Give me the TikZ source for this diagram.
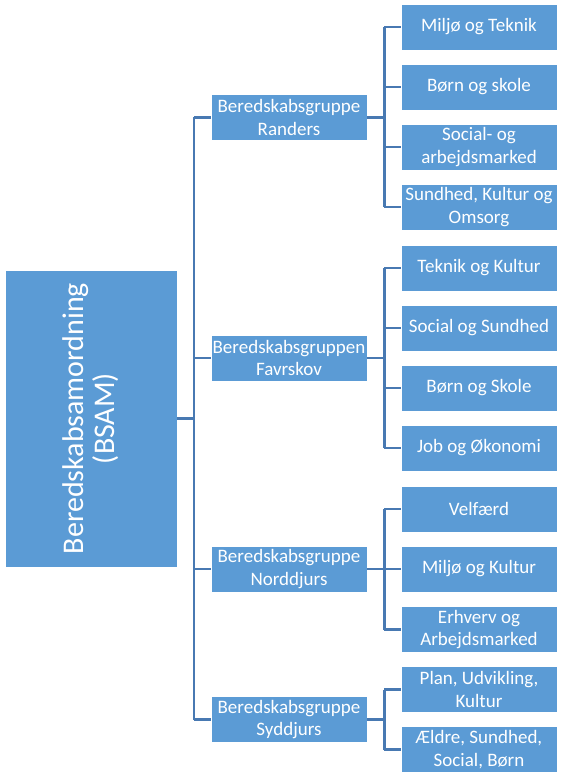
\documentclass[tikz,border=0pt]{standalone}
\usepackage{fontspec}
\setmainfont{Carlito}
\usetikzlibrary{calc}
\definecolor{boxblue}{HTML}{5B9BD5}
\definecolor{linkblue}{RGB}{72,121,178}
\begin{document}
\begin{tikzpicture}[x=1pt,y=-1pt,
  box/.style={draw=white,line width=0.6pt,fill=boxblue,text=white,inner sep=0pt,
    minimum width=156pt,minimum height=46pt,align=center,
    font=\fontsize{19}{22.5}\selectfont},
  link/.style={draw=linkblue,line width=2.4pt}]
\useasboundingbox[fill=white] (0,0) rectangle (562,778);
% root
\node[box,minimum width=172pt,minimum height=297pt] (root) at (91,418.5) {};
\node[rotate=90,text=white,align=center,inner sep=0pt,font=\fontsize{30}{31}\selectfont] (roottext) at (root.center) {Beredskabsamordning\\(BSAM)};
% level 2
\node[box] (g1) at (289,117.5) {Beredskabsgruppe\\Randers};
\node[box] (g2) at (289,358) {Beredskabsgruppen\\Favrskov};
\node[box] (g3) at (289,569) {Beredskabsgruppe\\Norddjurs};
\node[box] (g4) at (289,719.5) {Beredskabsgruppe\\Syddjurs};
% level 3
\node[box] (c11) at (479,27) {Miljø og Teknik};
\node[box] (c12) at (479,87) {Børn og skole};
\node[box] (c13) at (479,147) {Social- og\\arbejdsmarked};
\node[box] (c14) at (479,207) {Sundhed, Kultur og\\Omsorg};
\node[box] (c21) at (479,268) {Teknik og Kultur};
\node[box] (c22) at (479,328) {Social og Sundhed};
\node[box] (c23) at (479,388) {Børn og Skole};
\node[box] (c24) at (479,448) {Job og Økonomi};
\node[box] (c31) at (479,509) {Velfærd};
\node[box] (c32) at (479,569) {Miljø og Kultur};
\node[box] (c33) at (479,629.5) {Erhverv og\\Arbejdsmarked};
\node[box] (c41) at (479,689.5) {Plan, Udvikling,\\Kultur};
\node[box] (c42) at (479,749.5) {Ældre, Sundhed,\\Social, Børn};
% trunk
\coordinate (trunk) at (194,418.5);
\draw[link] (root.east) -- (trunk);
\draw[link] (trunk |- g1.west) -- (trunk |- g4.west);
\foreach \g in {g1,g2,g3,g4}{
  \draw[link] (trunk |- \g.west) -- (\g.west);
}
% branches
\foreach \g/\first/\last/\kids in {g1/c11/c14/{c11,c12,c13,c14},g2/c21/c24/{c21,c22,c23,c24},g3/c31/c33/{c31,c32,c33},g4/c41/c42/{c41,c42}}{
  \coordinate (b\g) at ($(\g.east)+(17,0)$);
  \draw[link] (\g.east) -- (b\g);
  \draw[link] (b\g |- \first.west) -- (b\g |- \last.west);
  \foreach \k in \kids {
    \draw[link] (b\g |- \k.west) -- (\k.west);
  }
}
\end{tikzpicture}
\end{document}
